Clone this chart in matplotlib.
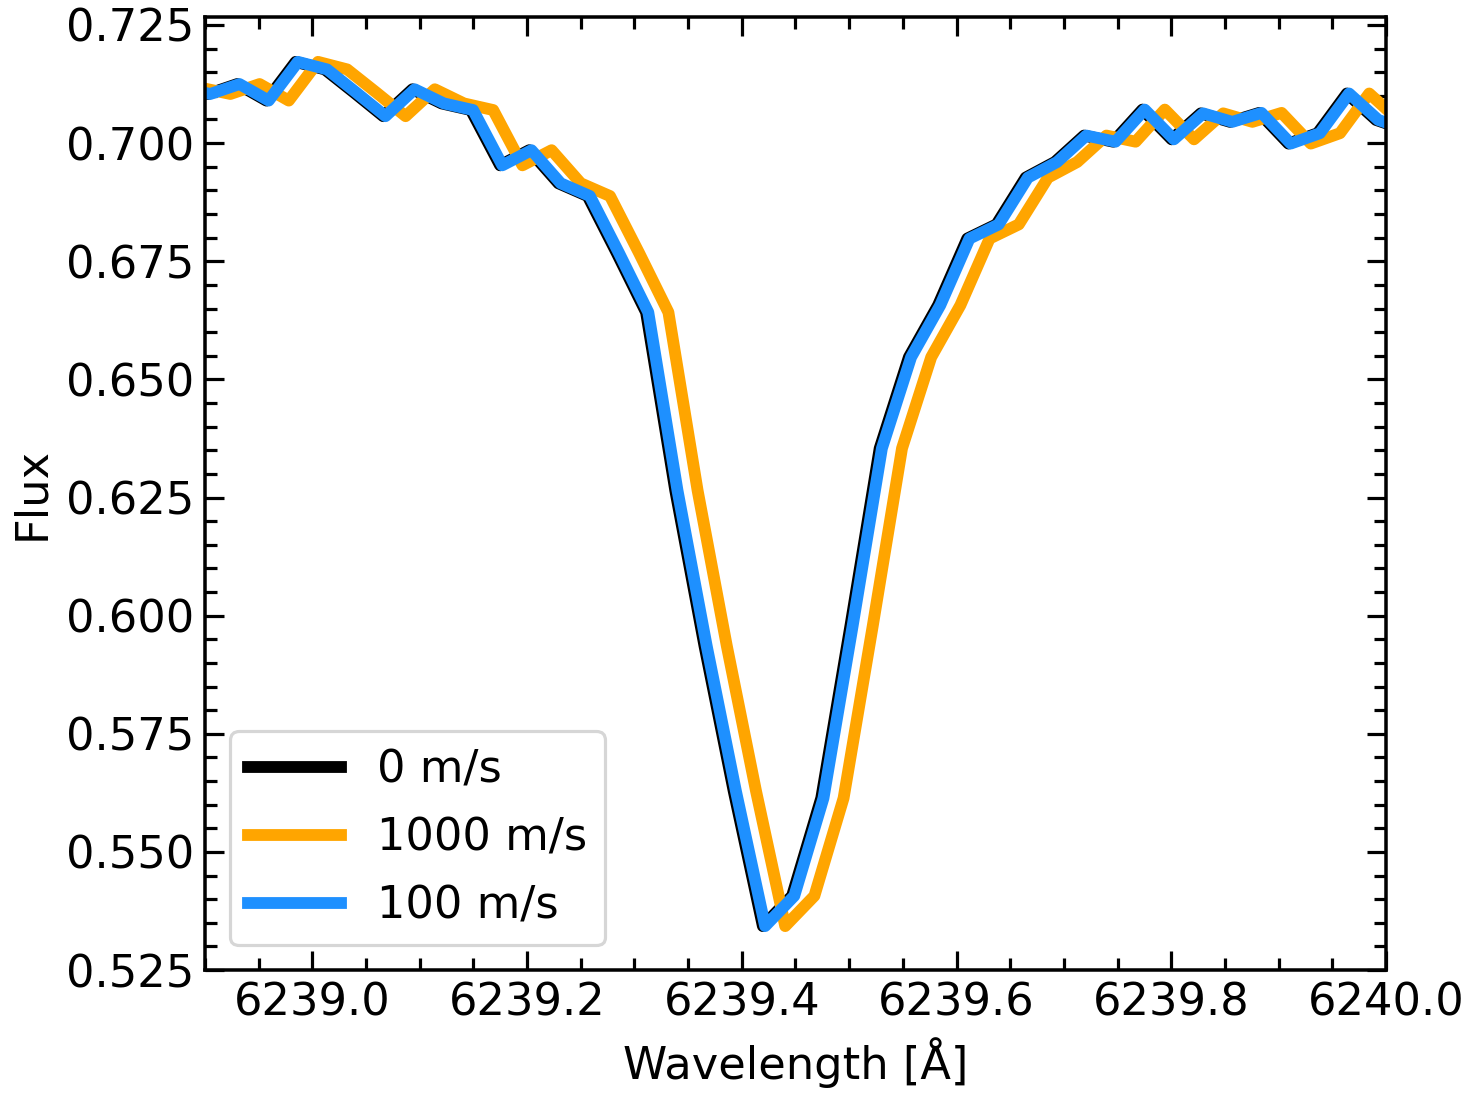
import matplotlib.pyplot as plt
from matplotlib.ticker import MultipleLocator
import numpy as np

# rest-frame spectrum around the Fe I 6239.4 line
wavelength = [6238.8756, 6238.9028, 6238.9300, 6238.9572, 6238.9844, 6239.0116,
              6239.0388, 6239.0660, 6239.0932, 6239.1204, 6239.1476, 6239.1748,
              6239.2020, 6239.2292, 6239.2564, 6239.2836, 6239.3108, 6239.3380,
              6239.3652, 6239.3924, 6239.4196, 6239.4468, 6239.4740, 6239.5012,
              6239.5284, 6239.5556, 6239.5828, 6239.6100, 6239.6372, 6239.6644,
              6239.6916, 6239.7188, 6239.7460, 6239.7732, 6239.8004, 6239.8276,
              6239.8548, 6239.8820, 6239.9092, 6239.9364, 6239.9636, 6239.9908,
              6240.0180]
flux = [0.7117, 0.7104, 0.7125, 0.7090, 0.7172, 0.7156, 0.7107, 0.7057, 0.7114,
        0.7084, 0.7070, 0.6953, 0.6985, 0.6915, 0.6888, 0.6767, 0.6642, 0.6265,
        0.5936, 0.5629, 0.5343, 0.5407, 0.5614, 0.5979, 0.6354, 0.6547, 0.6657,
        0.6798, 0.6828, 0.6927, 0.6960, 0.7016, 0.7003, 0.7071, 0.7008, 0.7063,
        0.7045, 0.7064, 0.6999, 0.7021, 0.7105, 0.7049, 0.7028]

velocities = [0, 1000, 100]  # m/s
labels = ["0 m/s", "1000 m/s", "100 m/s"]
colors = ["black", "orange", "dodgerblue"]

C = 299792458.0  # speed of light, m/s


def doppler(wl, v):
    return np.asarray(wl) * (1.0 + v / C)


fig = plt.figure(figsize=(1473 / 230, 1094 / 230), dpi=230)
ax = fig.add_axes([0.1392, 0.1133, 0.8017, 0.8712])

for v, lab, col in zip(velocities, labels, colors):
    ax.plot(doppler(wavelength, v), flux, color=col, lw=3.7, label=lab)

ax.set_xlim(6238.9, 6240.0)
ax.set_ylim(0.525, 0.7267)
ax.ticklabel_format(useOffset=False)
ax.xaxis.set_major_locator(MultipleLocator(0.2))
ax.xaxis.set_minor_locator(MultipleLocator(0.05))
ax.yaxis.set_major_locator(MultipleLocator(0.025))
ax.yaxis.set_minor_locator(MultipleLocator(0.005))
ax.tick_params(which="both", direction="in", top=True, right=True,
               labelsize=14, width=1.0)
ax.tick_params(which="major", length=6)
ax.tick_params(which="minor", length=3.7)
for s in ax.spines.values():
    s.set_linewidth(1.1)

ax.set_xlabel("Wavelength [Å]", fontsize=14)
ax.set_ylabel("Flux", fontsize=14)
ax.legend(loc="lower left", fontsize=14, handlelength=2.1, handletextpad=0.8,
          labelspacing=0.56, borderaxespad=0.55)

fig.savefig("out.png", dpi=230)
